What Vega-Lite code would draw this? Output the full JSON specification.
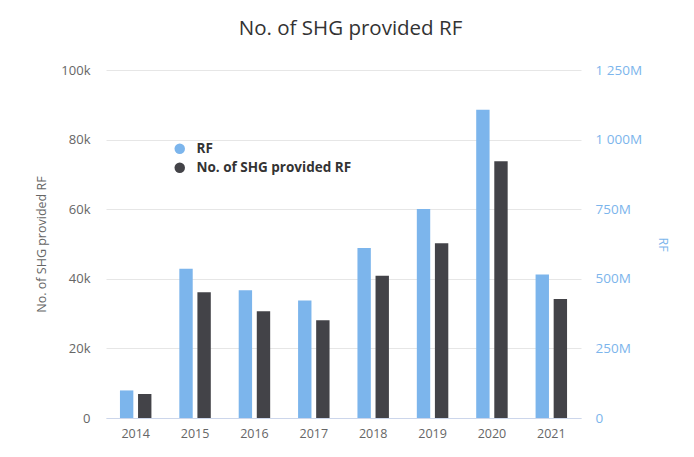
{
  "$schema": "https://vega.github.io/schema/vega-lite/v6.json",
  "width": 475,
  "height": 348,
  "autosize": {"type": "none"},
  "padding": {"left": 106, "top": 70, "right": 113, "bottom": 39},
  "background": "white",
  "title": {"text": "No. of SHG provided RF", "fontSize": 20.5, "font": "Open Sans", "fontWeight": "normal", "color": "#333333", "anchor": "middle", "offset": 24, "dx": 7},
  "config": {"font": "Open Sans", "view": {"stroke": null}},
  "data": {"values": [
    {"year": "2014", "series": "RF", "value": 99000000},
    {"year": "2015", "series": "RF", "value": 536000000},
    {"year": "2016", "series": "RF", "value": 459000000},
    {"year": "2017", "series": "RF", "value": 422000000},
    {"year": "2018", "series": "RF", "value": 611000000},
    {"year": "2019", "series": "RF", "value": 751000000},
    {"year": "2020", "series": "RF", "value": 1107000000},
    {"year": "2021", "series": "RF", "value": 515000000},
    {"year": "2014", "series": "No. of SHG provided RF", "value": 6900},
    {"year": "2015", "series": "No. of SHG provided RF", "value": 36100},
    {"year": "2016", "series": "No. of SHG provided RF", "value": 30700},
    {"year": "2017", "series": "No. of SHG provided RF", "value": 28100},
    {"year": "2018", "series": "No. of SHG provided RF", "value": 40900},
    {"year": "2019", "series": "No. of SHG provided RF", "value": 50200},
    {"year": "2020", "series": "No. of SHG provided RF", "value": 73800},
    {"year": "2021", "series": "No. of SHG provided RF", "value": 34200}
  ]},
  "encoding": {
    "x": {
      "field": "year", "type": "nominal",
      "scale": {"paddingInner": 0.47, "paddingOuter": 0.235},
      "axis": {"title": null, "labelAngle": 0, "ticks": false, "grid": false, "domainColor": "#ccd6eb", "labelColor": "#666666", "labelFontSize": 12.5, "labelPadding": 9}
    },
    "xOffset": {
      "field": "series", "type": "nominal",
      "scale": {"domain": ["RF", "No. of SHG provided RF"], "paddingInner": 0.26, "paddingOuter": 0}
    },
    "color": {
      "field": "series", "type": "nominal",
      "scale": {"domain": ["RF", "No. of SHG provided RF"], "range": ["#7cb5ec", "#434348"]},
      "legend": {"title": null, "orient": "none", "legendX": 67, "legendY": 72, "symbolType": "circle", "symbolSize": 110, "symbolStrokeWidth": 0, "labelFontSize": 13.5, "labelFontWeight": "bold", "labelColor": "#333333", "labelOffset": 10, "labelLimit": 400, "rowPadding": 4, "padding": 0}
    }
  },
  "layer": [
    {
      "transform": [{"filter": "datum.series == 'No. of SHG provided RF'"}],
      "mark": {"type": "bar"},
      "encoding": {
        "y": {
          "field": "value", "type": "quantitative",
          "scale": {"domain": [0, 100000], "nice": false},
          "axis": {"title": "No. of SHG provided RF", "orient": "left", "values": [0, 20000, 40000, 60000, 80000, 100000], "labelExpr": "datum.value == 0 ? '0' : format(datum.value/1000, 'd') + 'k'", "domain": false, "ticks": false, "gridColor": "#e6e6e6", "labelColor": "#666666", "labelFontSize": 13, "labelPadding": 16, "titleColor": "#666666", "titleFontSize": 12.5, "titleFontWeight": "normal", "titlePadding": 12}
        }
      }
    },
    {
      "transform": [{"filter": "datum.series == 'RF'"}],
      "mark": {"type": "bar"},
      "encoding": {
        "y": {
          "field": "value", "type": "quantitative",
          "scale": {"domain": [0, 1250000000], "nice": false},
          "axis": {"title": "RF", "orient": "right", "values": [0, 250000000, 500000000, 750000000, 1000000000, 1250000000], "labelExpr": "replace(format(datum.value/1000000, ','), ',', ' ') + (datum.value == 0 ? '' : 'M')", "grid": false, "domain": false, "ticks": false, "labelColor": "#7cb5ec", "labelFontSize": 13.5, "labelPadding": 14, "titleColor": "#7cb5ec", "titleFontSize": 12.5, "titleFontWeight": "normal", "titlePadding": 14}
        }
      }
    }
  ],
  "resolve": {"scale": {"y": "independent"}}
}
